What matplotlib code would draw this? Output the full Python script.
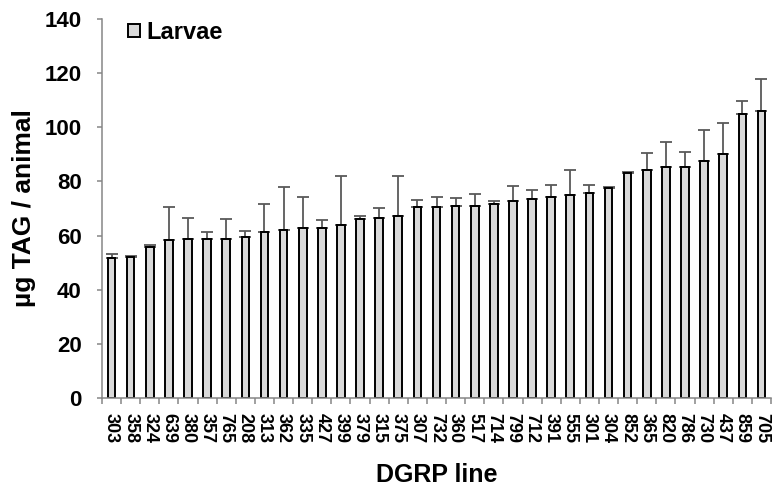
import matplotlib as mpl
mpl.use('Agg')
import matplotlib.pyplot as plt
import numpy as np

plt.rcParams['font.family'] = ['Liberation Sans', 'DejaVu Sans']
plt.rcParams['font.weight'] = 'bold'

lines = ['303', '358', '324', '639', '380', '357', '765', '208', '313', '362',
         '335', '427', '399', '379', '315', '375', '307', '732', '360', '517',
         '714', '799', '712', '391', '555', '301', '304', '852', '365', '820',
         '786', '730', '437', '859', '705']
tag = [51.6, 52.2, 55.7, 58.4, 58.6, 58.9, 58.9, 59.4, 61.2, 61.9,
       62.8, 62.8, 63.8, 66.1, 66.4, 67.4, 70.4, 70.7, 70.8, 71.0,
       71.7, 72.8, 73.5, 74.3, 75.1, 75.8, 77.7, 83.1, 84.1, 85.3,
       85.3, 87.7, 90.0, 104.9, 106.1]
err = [1.6, 0.3, 0.8, 12.3, 7.9, 2.5, 7.2, 2.3, 10.5, 16.0,
       11.3, 2.8, 18.1, 1.1, 3.7, 14.5, 2.7, 3.4, 3.1, 4.4,
       1.2, 5.4, 3.4, 4.4, 9.1, 2.9, 0.3, 0.2, 6.3, 9.3,
       5.6, 11.3, 11.6, 4.8, 11.7]

axis_grey = '#868686'

fig = plt.figure(figsize=(7.81, 4.97), dpi=100)
ax = fig.add_axes([0.1306, 0.199, 0.8566, 0.763])

x = np.arange(len(lines))
ax.bar(x, tag, width=0.4, color='#d9d9d9', edgecolor='black', linewidth=1.4,
       label='Larvae', zorder=2)
ax.errorbar(x, tag, yerr=[np.zeros(len(err)), err], fmt='none',
            ecolor='#595959', elinewidth=1.3, capsize=4.3, capthick=1.3, zorder=1)

ax.set_xlim(-0.5, len(lines) - 0.5)
ax.set_ylim(0, 140)
ax.set_yticks(np.arange(0, 141, 20))
ax.tick_params(axis='y', labelsize=16, direction='out', length=3.6,
               width=1.1, color=axis_grey, pad=11)

# labels in the middle of each slot, tick marks on the slot boundaries
ax.set_xticks(x)
ax.set_xticklabels(lines, rotation=-90, fontsize=13)
ax.tick_params(axis='x', which='major', length=0, pad=11)
ax.set_xticks(np.arange(-0.5, len(lines)), minor=True)
ax.tick_params(axis='x', which='minor', direction='out', length=4.3,
               width=1.1, color=axis_grey)

for s in ['top', 'right']:
    ax.spines[s].set_visible(False)
for s in ['left', 'bottom']:
    ax.spines[s].set_color(axis_grey)
    ax.spines[s].set_linewidth(1.1)

ax.set_ylabel('µg TAG / animal', fontsize=19, fontweight='bold', labelpad=6)
ax.set_xlabel('DGRP line', fontsize=18, fontweight='bold', labelpad=14)

ax.legend(loc='upper left', bbox_to_anchor=(0.025, 1.02), frameon=False,
          fontsize=17, handlelength=0.5, handleheight=0.5, handletextpad=0.25,
          borderaxespad=0)

fig.savefig('out.png', dpi=100)
